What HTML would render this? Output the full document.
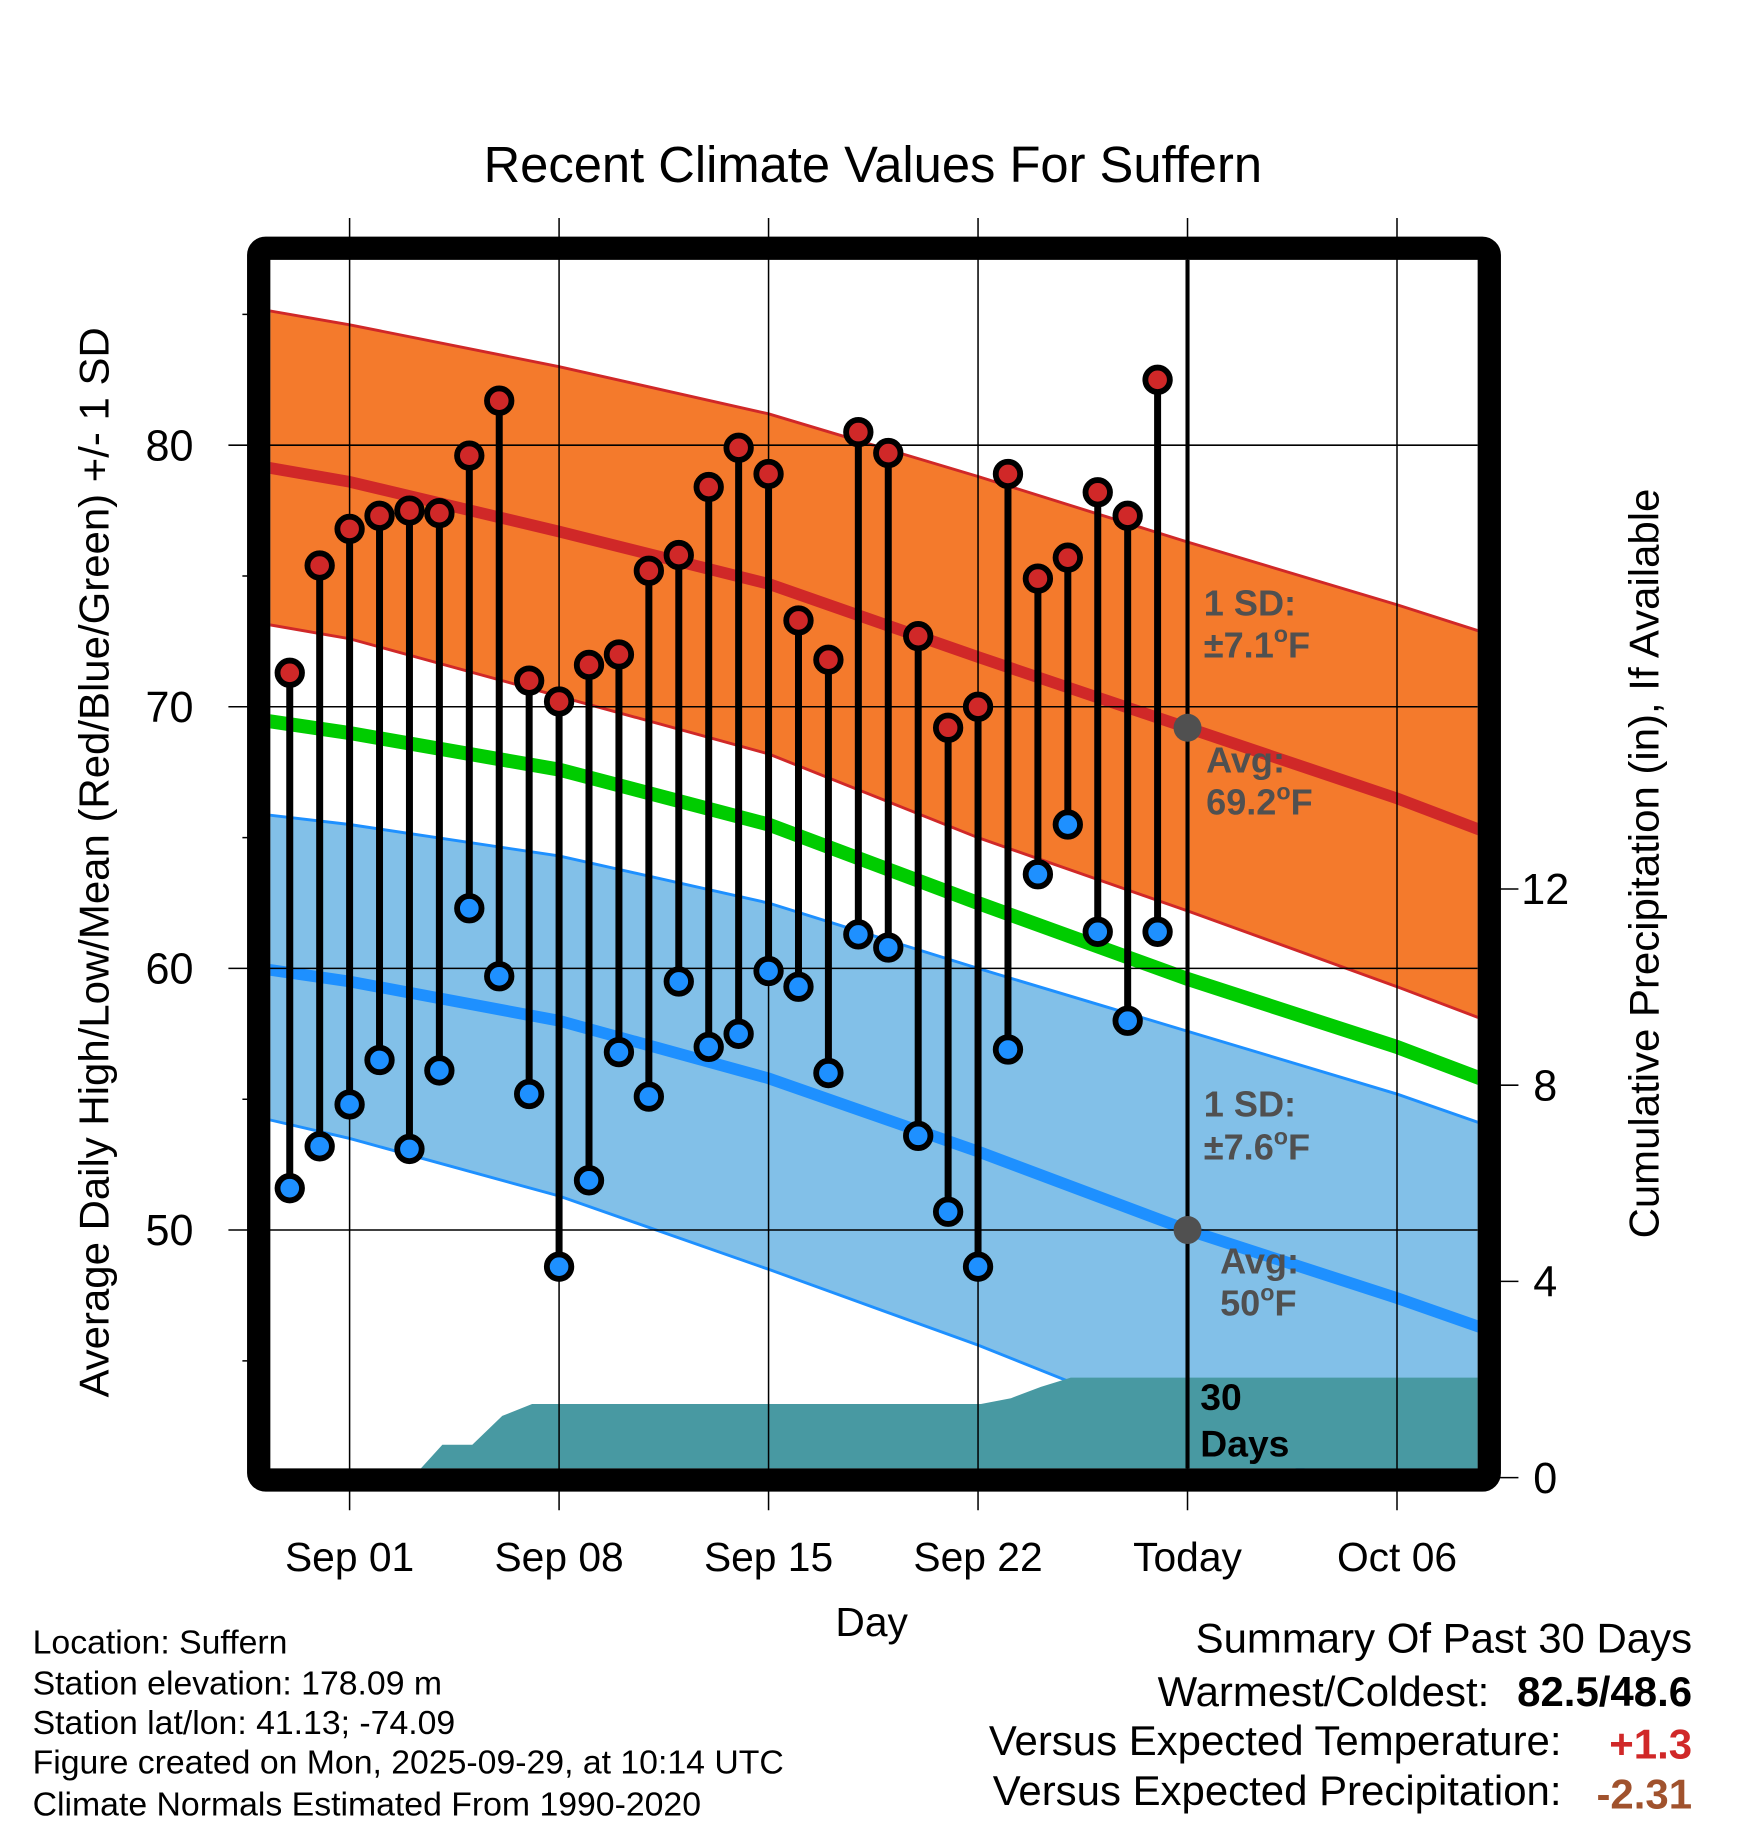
<!DOCTYPE html>
<html><head><meta charset="utf-8">
<style>
html,body{margin:0;padding:0;background:#fff;}
svg{display:block;font-family:"Liberation Sans",sans-serif;}
</style></head>
<body>
<svg id="chart" width="1748" height="1828" viewBox="0 0 1500 1568.6" xmlns="http://www.w3.org/2000/svg">
<defs><clipPath id="plotclip"><rect x="232" y="223" width="1036" height="1037"/></clipPath></defs>
<g id="bands" clip-path="url(#plotclip)"></g>
<g id="grid"></g>
<g id="marks"></g>
<rect x="222" y="213" width="1056" height="1057" rx="6" fill="none" stroke="#000" stroke-width="20"/>
<text x="749" y="156" font-size="43.5" text-anchor="middle">Recent Climate Values For Suffern</text>
<text transform="translate(93,740) rotate(-90)" font-size="36" text-anchor="middle">Average Daily High/Low/Mean (Red/Blue/Green) +/- 1 SD</text>
<text transform="translate(1423,741) rotate(-90)" font-size="36" text-anchor="middle">Cumulative Precipitation (in), If Available</text>
<text x="748" y="1404" font-size="35" text-anchor="middle">Day</text>
<g font-size="31" font-weight="bold" fill="#505050">
<text x="1033" y="528">1 SD:</text><text x="1033" y="564">±7.1<tspan dy="-13" font-size="20">o</tspan><tspan dy="13">F</tspan></text>
<text x="1035" y="663">Avg:</text><text x="1035" y="699">69.2<tspan dy="-13" font-size="20">o</tspan><tspan dy="13">F</tspan></text>
<text x="1033" y="958">1 SD:</text><text x="1033" y="995">±7.6<tspan dy="-13" font-size="20">o</tspan><tspan dy="13">F</tspan></text>
<text x="1047" y="1093">Avg:</text><text x="1047" y="1129">50<tspan dy="-13" font-size="20">o</tspan><tspan dy="13">F</tspan></text>
</g>
<g font-size="32" font-weight="bold" fill="#000">
<text x="1030" y="1210">30</text><text x="1030" y="1250">Days</text></g>
<g font-size="29">
<text x="28" y="1419">Location: Suffern</text>
<text x="28" y="1454">Station elevation: 178.09 m</text>
<text x="28" y="1488">Station lat/lon: 41.13; -74.09</text>
<text x="28" y="1522">Figure created on Mon, 2025-09-29, at 10:14 UTC</text>
<text x="28" y="1558">Climate Normals Estimated From 1990-2020</text>
</g>
<g font-size="36">
<text x="1452" y="1418" text-anchor="end">Summary Of Past 30 Days</text>
<text x="1278" y="1464" text-anchor="end">Warmest/Coldest:</text>
<text x="1452" y="1464" text-anchor="end" font-weight="bold">82.5/48.6</text>
<text x="1340" y="1506" text-anchor="end">Versus Expected Temperature:</text>
<text x="1452" y="1509" text-anchor="end" font-weight="bold" fill="#d02828">+1.3</text>
<text x="1340" y="1549" text-anchor="end">Versus Expected Precipitation:</text>
<text x="1452" y="1552" text-anchor="end" font-weight="bold" fill="#a0522d">-2.31</text>
</g>
</svg>
<script>
const normDays=[-3,0,7,14,21,28,35,38];
const upperHigh=[85.2,84.6,83.0,81.2,78.8,76.3,73.9,72.8];
const avgHigh=[79.2,78.6,76.7,74.7,71.9,69.2,66.5,65.2];
const lowerHigh=[73.2,72.6,70.4,68.2,65.0,62.2,59.3,58.0];
const meanTemp=[69.5,69.0,67.6,65.5,62.5,59.6,57.0,55.7];
const upperLow=[65.9,65.5,64.3,62.5,60.0,57.6,55.2,54.0];
const avgLow=[60.0,59.5,58.0,55.8,53.0,50.0,47.4,46.2];
const lowerLow=[54.3,53.5,51.3,48.5,45.6,42.4,39.6,38.4];
const obsDays=[-2,-1,0,1,2,3,4,5,6,7,8,9,10,11,12,13,14,15,16,17,18,19,20,21,22,23,24,25,26,27];
const highs=[71.3,75.4,76.8,77.3,77.5,77.4,79.6,81.7,71.0,70.2,71.6,72.0,75.2,75.8,78.4,79.9,78.9,73.3,71.8,80.5,79.7,72.7,69.2,70.0,78.9,74.9,75.7,78.2,77.3,82.5];
const lows=[51.6,53.2,54.8,56.5,53.1,56.1,62.3,59.7,55.2,48.6,51.9,56.8,55.1,59.5,57.0,57.5,59.9,59.3,56.0,61.3,60.8,53.6,50.7,48.6,56.9,63.6,65.5,61.4,58.0,61.4];
const precip=[0,0,0,0,0,0.67,0.67,1.26,1.5,1.5,1.5,1.5,1.5,1.5,1.5,1.5,1.5,1.5,1.5,1.5,1.5,1.5,1.5,1.5,1.62,1.85,2.04,2.04,2.04,2.04];
const xTickDays=[0,7,14,21,28,35];
const xTickLabels=["Sep 01","Sep 08","Sep 15","Sep 22","Today","Oct 06"];
const yTicks=[50,60,70,80];
const yMinor=[45,55,65,75,85];
const pTicks=[0,4,8,12];
const todayDay=28, todayHighAvg=69.2, todayLowAvg=50;

const X=d=>300+d*25.68;
const Y=t=>382+(80-t)*22.45;
const P=p=>1268-p*42.1;
const NS="http://www.w3.org/2000/svg";
function mk(parent,tag,attrs){const e=document.createElementNS(NS,tag);for(const k in attrs)e.setAttribute(k,attrs[k]);parent.appendChild(e);return e;}
const bands=document.getElementById('bands'),grid=document.getElementById('grid'),marks=document.getElementById('marks');
function line(arr){return normDays.map((d,i)=>X(d).toFixed(1)+','+Y(arr[i]).toFixed(1));}
function band(up,lo,fill,edge,name){
  const pts=line(up).concat(line(lo).reverse()).join(' ');
  let e=mk(bands,'polygon',{points:pts,fill:fill});
  
  
  e=mk(bands,'polyline',{points:line(up).join(' '),fill:'none',stroke:edge,'stroke-width':2.5});
  
  
  e=mk(bands,'polyline',{points:line(lo).join(' '),fill:'none',stroke:edge,'stroke-width':2.5});
  
  
}
band(upperLow,lowerLow,'#82c0e8','#1e90ff','low-sd-band');
band(upperHigh,lowerHigh,'#f47a2c','#d02828','high-sd-band');
let pp=[X(-2.65)+','+P(0)];
obsDays.forEach((d,i)=>{pp.push(X(d+0.1).toFixed(1)+','+P(precip[i]).toFixed(1));});
pp.push('1280,'+P(precip[precip.length-1]).toFixed(1));pp.push('1280,'+P(0));
let e=mk(bands,'polygon',{points:pp.join(' '),fill:'#4899a2'});


[[meanTemp,'#00cc00',12,'mean-temp-line'],[avgLow,'#1e90ff',10,'avg-low-line'],[avgHigh,'#d02828',10,'avg-high-line']].forEach(a=>{
  const l=mk(bands,'polyline',{points:line(a[0]).join(' '),fill:'none',stroke:a[1],'stroke-width':a[2]});
  
  
});
xTickDays.forEach((d,i)=>{
  const g=mk(grid,'line',{x1:X(d),x2:X(d),y1:187,y2:1296,stroke:'#000','stroke-width':1.3});
  
  
  const t=mk(grid,'text',{x:X(d),y:1348,'font-size':35,'text-anchor':'middle'});
  t.textContent=xTickLabels[i];
  
  
});
yTicks.forEach(v=>{
  const g=mk(grid,'line',{x1:196,x2:1268,y1:Y(v),y2:Y(v),stroke:'#000','stroke-width':1.3});
  
  
  const t=mk(grid,'text',{x:166,y:Y(v)+13,'font-size':37,'text-anchor':'end'});
  t.textContent=v;
  
  
});
yMinor.forEach(v=>{
  const g=mk(grid,'line',{x1:208,x2:222,y1:Y(v),y2:Y(v),stroke:'#000','stroke-width':1.3});
  
  
});
pTicks.forEach(v=>{
  const g=mk(grid,'line',{x1:1285,x2:1303,y1:P(v),y2:P(v),stroke:'#000','stroke-width':1.3});
  
  
  const t=mk(grid,'text',{x:1326,y:P(v)+13,'font-size':37,'text-anchor':'middle'});
  t.textContent=v;
  
  
});
e=mk(marks,'line',{x1:X(todayDay),x2:X(todayDay),y1:223,y2:1260,stroke:'#000','stroke-width':3.5});


[[todayHighAvg,'today-high-avg-dot'],[todayLowAvg,'today-low-avg-dot']].forEach(a=>{
  const c=mk(marks,'circle',{cx:X(todayDay),cy:Y(a[0]),r:12,fill:'#505050'});
  
  
});
obsDays.forEach((d,i)=>{
  const s=mk(marks,'line',{x1:X(d),x2:X(d),y1:Y(highs[i]),y2:Y(lows[i]),stroke:'#000','stroke-width':6});
  
  
  const h=mk(marks,'circle',{cx:X(d),cy:Y(highs[i]),r:10.5,fill:'#d02828',stroke:'#000','stroke-width':5});
  
  
  const l=mk(marks,'circle',{cx:X(d),cy:Y(lows[i]),r:10.5,fill:'#1e90ff',stroke:'#000','stroke-width':5});
  
  
});
</script>
</body></html>
